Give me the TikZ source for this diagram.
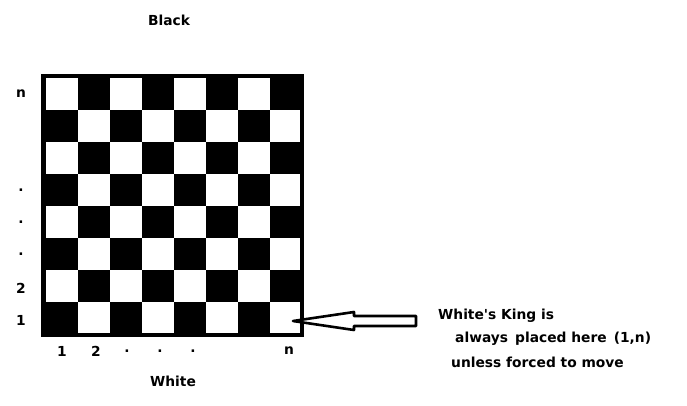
\documentclass[tikz,border=0pt]{standalone}
\usepackage{fontspec}
\setmainfont{DejaVu Sans}
\begin{document}
\begin{tikzpicture}[x=1pt,y=-1pt,
  lbl/.style={font=\fontsize{13.8}{16}\selectfont\bfseries, inner sep=0pt},
  txt/.style={font=\fontsize{13.8}{16}\selectfont\bfseries, inner sep=0pt, anchor=west},
  arrowshape/.style={draw=black, fill=white, line width=2.6pt, line join=round}]
\useasboundingbox (0,0) rectangle (687,405);
% board frame
\fill[black] (41,74) rectangle (304,337);
\foreach \r in {0,...,7}{
  \foreach \c in {0,...,7}{
    \pgfmathtruncatemacro{\myparity}{mod(\r+\c,2)}
    \ifnum\myparity=0
      \fill[white] ({46+32*\c},{78+32*\r}) rectangle ({46+32*\c+32},{78+32*\r+32});
    \fi
  }
}
\fill[black] (300,74) rectangle (304,337);
\fill[black] (41,333) rectangle (304,337);
% labels
\node[lbl] (black) at (169,20) {Black};
\node[lbl] (white) at (173,381) {White};
\node[lbl] (rn) at (21,94) {n};
\node[lbl] (rd1) at (21,190) {.};
\node[lbl] (rd2) at (21,222) {.};
\node[lbl] (rd3) at (21,254) {.};
\node[lbl] (r2) at (21,288) {2};
\node[lbl] (r1) at (21,320) {1};
\node[lbl] (c1) at (62,351) {1};
\node[lbl] (c2) at (96,351) {2};
\node[lbl] (cd1) at (127,351) {.};
\node[lbl] (cd2) at (160,351) {.};
\node[lbl] (cd3) at (193,351) {.};
\node[lbl] (cn) at (289,351) {n};
% arrow
\draw[arrowshape] (293,321) -- (354,312) -- (354,316) -- (416,316) -- (416,326) -- (354,326) -- (354,330) -- cycle;
% text
\node[txt] (t1) at (438,316) {White\textquotesingle s King is};
\node[txt] (t2) at (455,339) {always\, placed here\, (1,n)};
\node[txt] (t3) at (451,362) {unless forced to move};
\end{tikzpicture}
\end{document}
